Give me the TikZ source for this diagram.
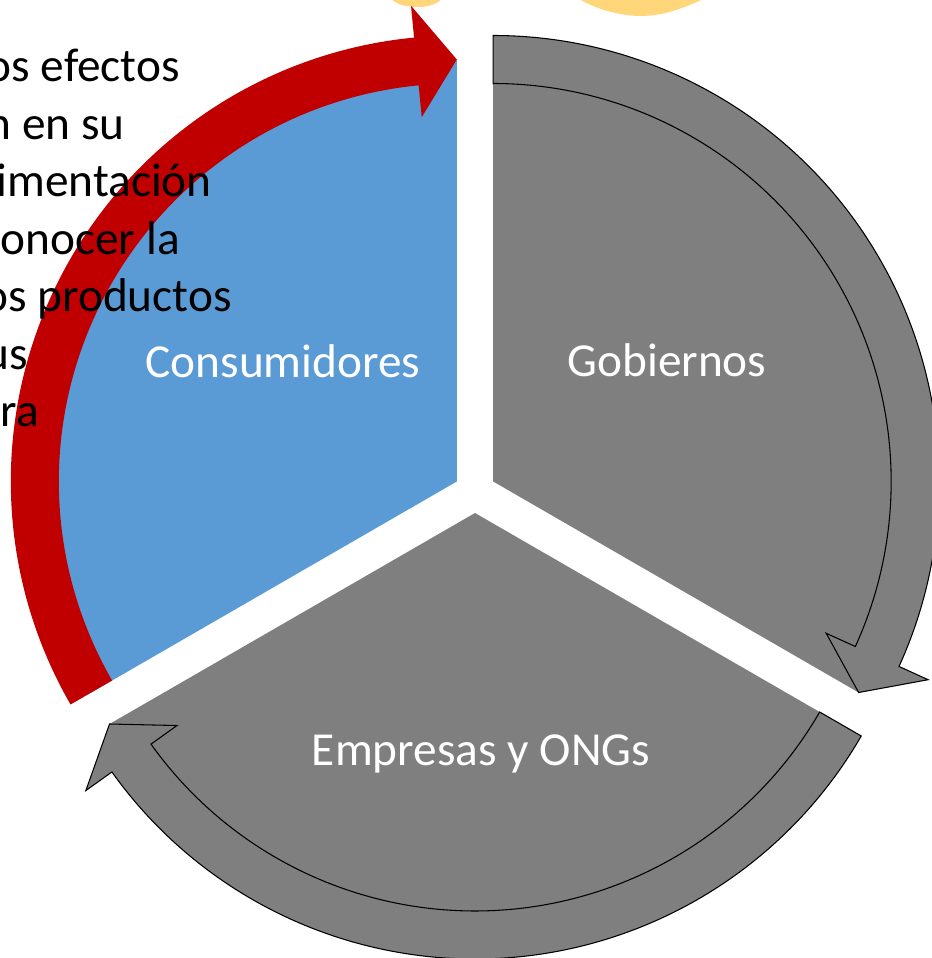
\documentclass[tikz,border=0pt]{standalone}
\usepackage{fontspec}
\setmainfont{Carlito}
\usepackage{xcolor}
\usepackage{tikz}
\definecolor{segblue}{HTML}{5B9BD5}
\definecolor{arrred}{HTML}{C00000}
\definecolor{seggray}{HTML}{7F7F7F}
\definecolor{sunyellow}{HTML}{FFD67A}

\begin{document}
\begin{tikzpicture}[x=0.75pt,y=0.75pt]
	  \tikzset{seglabel/.style={text=white, anchor=base, inner sep=0pt, font=\fontsize{35.5}{43}\selectfont},
	  	notetext/.style={text=black, anchor=base east, inner sep=0pt, font=\fontsize{35.5}{43}\selectfont},
	  	arcarrow/.style={line width=0.8pt, line join=miter},
	  }
	  \useasboundingbox (-475,-466) rectangle (457,492);
	  
	  %% sun behind the top edge
	  \fill[sunyellow] (-93,510) .. controls (-88,488) and (-72,485) .. (-57,485)
	  	.. controls (-42,485) and (-30,490) .. (-22,510) -- cycle;
	  \fill[sunyellow] (85,510) .. controls (100,488) and (140,476) .. (165,476)
	  	.. controls (195,476) and (220,488) .. (262,510) -- cycle;
	  
	  %% segments with their arc arrows
	  \foreach \bis/\a/\b/\segcol/\arrcol/\arrline in {30/90/-30/seggray/seggray/black,
	  	270/-30/-150/seggray/seggray/black,
	  	150/210/90/segblue/arrred/none}{
	  	\pgfmathsetmacro\bb{\b+5.5}
	  	\begin{scope}[shift={(\bis:21)}]
	  		\fill[\segcol] (0,0) -- (\a:422) arc[start angle=\a, end angle=\b, radius=422] -- cycle;
	  		\filldraw[arcarrow, fill=\arrcol, draw=\arrline] (\a:446)
	  			arc[start angle=\a, end angle=\bb, radius=446]
	  			-- (\bb:478) -- (\b:422) -- (\bb:366) -- (\bb:398)
	  			arc[start angle=\bb, end angle=\a, radius=398] -- cycle;
	  	\end{scope}
	  }
	  
	  \node [seglabel] (cons) at (-192,115) {Consumidores};
	  \node [seglabel] (gob) at (192,116) {Gobiernos};
	  \node [seglabel] (emp) at (6,-273) {Empresas y ONGs};
	  
	  %% text cut by the left edge
	  \node [notetext] (note1) at (-295,410.3) {os efectos};
	  \node [notetext] (note2) at (-350,352.8) {n en su};
	  \node [notetext] (note3) at (-263,295.3) {imentación};
	  \node [notetext] (note4) at (-295,237.8) {onocer la};
	  \node [notetext] (note5) at (-243,180.3) {os productos};
	  \node [notetext] (note6) at (-447,122.8) {us};
	  \node [notetext] (note7) at (-436,65.3) {ora};
	  \end{tikzpicture}
\end{document}
